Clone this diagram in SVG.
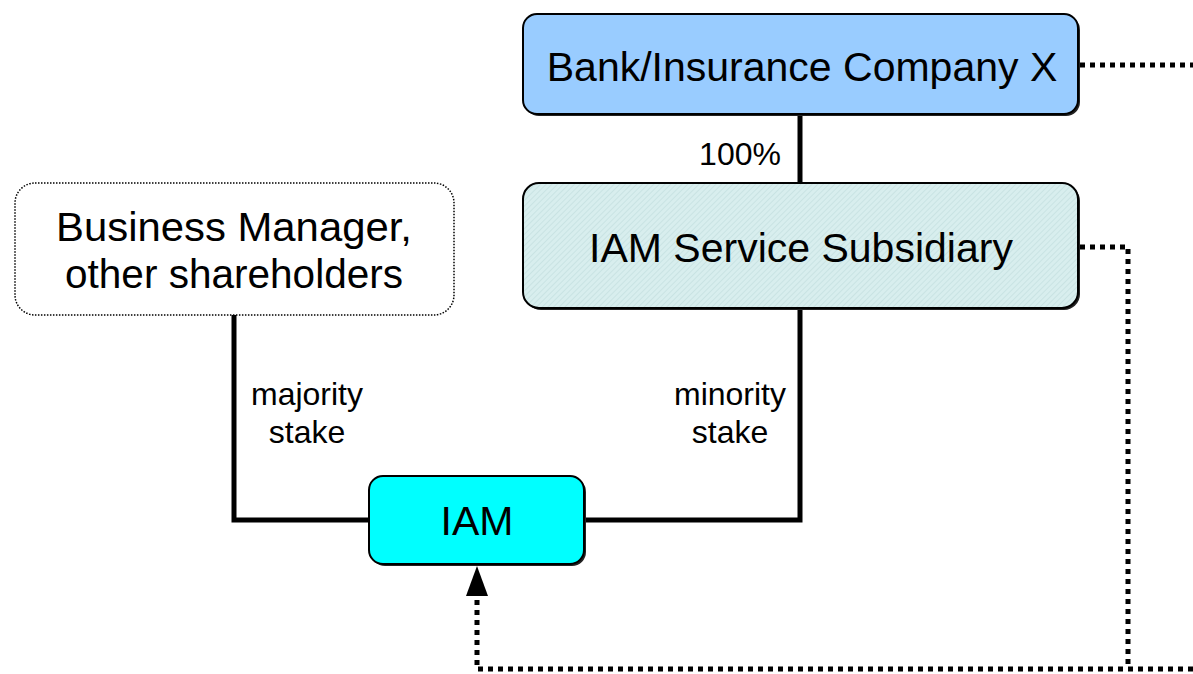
<svg xmlns="http://www.w3.org/2000/svg" width="1193" height="674" viewBox="0 0 1193 674">
<style>
.main{font-family:"Liberation Sans",Arial,sans-serif;font-size:41px;fill:#000;text-anchor:middle}
.small{font-family:"Liberation Sans",Arial,sans-serif;font-size:32px;fill:#000;text-anchor:middle}
.box{stroke:#000;stroke-width:2}
.shadow{fill:#222}
.solid{fill:none;stroke:#000;stroke-width:5}
.dot{fill:none;stroke:#000;stroke-width:5;stroke-dasharray:5 5}
</style>
<defs>
<pattern id="hatch" width="4" height="4" patternUnits="userSpaceOnUse" patternTransform="rotate(45)">
<rect width="4" height="4" fill="#d8eeee"/>
<line x1="0" y1="0" x2="0" y2="4" stroke="#c4e0e0" stroke-width="1.5"/>
</pattern>
</defs>
<g id="connectors">
<polyline class="solid" points="800,114 800,183"/>
<polyline class="solid" points="234,315 234,520 369,520"/>
<polyline class="solid" points="584,520 800,520 800,308"/>
<polyline class="dot" points="1080,65 1193,65"/>
<polyline class="dot" points="1080,247 1128,247 1128,669"/>
<polyline class="dot" points="1193,669 477,669 477,596"/>
<path d="M477,566 L488,596 L466,596 Z" fill="#000"/>
</g>
<g id="bank">
<rect class="shadow" x="525" y="16" width="555" height="100" rx="14"/>
<rect class="box" x="523" y="14" width="555" height="100" rx="14" fill="#99ccff"/>
<text class="main" x="802" y="81">Bank/Insurance Company X</text>
</g>
<g id="label-100">
<text class="small" x="740" y="165">100%</text>
</g>
<g id="subsidiary">
<rect class="shadow" x="525" y="185" width="555" height="125" rx="16"/>
<rect class="box" x="523" y="183" width="555" height="125" rx="16" fill="url(#hatch)"/>
<text class="main" x="801" y="262">IAM Service Subsidiary</text>
</g>
<g id="business-manager">
<rect x="15" y="183" width="439" height="132" rx="20" fill="#fff" stroke="#000" stroke-width="1.5" stroke-dasharray="1.5 1.5"/>
<text class="main" x="234" y="241" textLength="356" lengthAdjust="spacingAndGlyphs">Business Manager,</text>
<text class="main" x="234" y="288" textLength="338" lengthAdjust="spacingAndGlyphs">other shareholders</text>
</g>
<g id="label-majority">
<text class="small" x="307" y="405">majority</text>
<text class="small" x="307" y="443">stake</text>
</g>
<g id="label-minority">
<text class="small" x="730" y="405">minority</text>
<text class="small" x="730" y="443">stake</text>
</g>
<g id="iam">
<rect class="shadow" x="371" y="478" width="215" height="88" rx="14"/>
<rect class="box" x="369" y="476" width="215" height="88" rx="14" fill="#00ffff"/>
<text class="main" x="477" y="535">IAM</text>
</g>
</svg>
